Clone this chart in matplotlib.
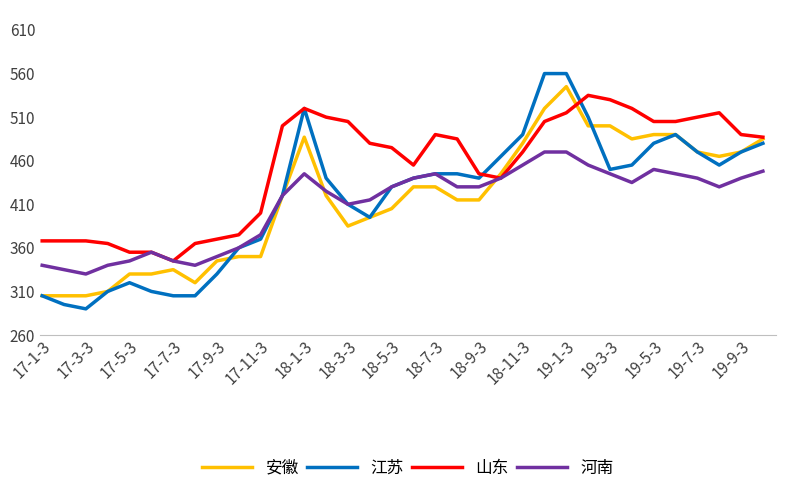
import matplotlib
matplotlib.use("Agg")
import matplotlib.pyplot as plt

plt.rcParams['font.family'] = ['Noto Sans CJK SC', 'DejaVu Sans']

months = list(range(34))
tick_pos = list(range(0, 33, 2))
tick_labels = ["17-1-3","17-3-3","17-5-3","17-7-3","17-9-3","17-11-3",
               "18-1-3","18-3-3","18-5-3","18-7-3","18-9-3","18-11-3",
               "19-1-3","19-3-3","19-5-3","19-7-3","19-9-3"]
anhui = [305,305,305,310,330,330,335,320,345,350,350,420,487,420,385,395,405,430,430,415,415,445,480,520,545,500,500,485,490,490,470,465,470,485]
jiangsu = [305,295,290,310,320,310,305,305,330,360,370,420,520,440,410,395,430,440,445,445,440,465,490,560,560,510,450,455,480,490,470,455,470,480]
shandong = [368,368,368,365,355,355,345,365,370,375,400,500,520,510,505,480,475,455,490,485,445,440,470,505,515,535,530,520,505,505,510,515,490,487]
henan = [340,335,330,340,345,355,345,340,350,360,375,420,445,425,410,415,430,440,445,430,430,440,455,470,470,455,445,435,450,445,440,430,440,448]
names = ["安徽","江苏","山东","河南"]
colors = ["#FFC000","#0070C0","#FF0000","#7030A0"]

fig = plt.figure(figsize=(8,5), dpi=100)
ax = fig.add_axes([0.05,0.33,0.92,0.61])
for s, n, c in zip([anhui, jiangsu, shandong, henan], names, colors):
    ax.plot(months, s, color=c, lw=2.5, label=n)
ax.set_ylim(260, 610)
ax.set_yticks(range(260, 611, 50))
ax.set_xlim(-0.1, 33.6)
ax.set_xticks(tick_pos)
ax.set_xticklabels(tick_labels, rotation=45, ha='right', rotation_mode='anchor')
for sp in ['top','right','left']:
    ax.spines[sp].set_visible(False)
ax.spines['bottom'].set_color('#BFBFBF')
ax.tick_params(axis='y', length=0, labelsize=11, colors='#404040')
ax.tick_params(axis='x', length=0, labelsize=11, colors='#404040', pad=2)
ax.legend(loc='upper center', bbox_to_anchor=(0.5, -0.36), ncol=4, frameon=False,
          fontsize=12, handlelength=3, columnspacing=0.5)
fig.savefig("out.png")
